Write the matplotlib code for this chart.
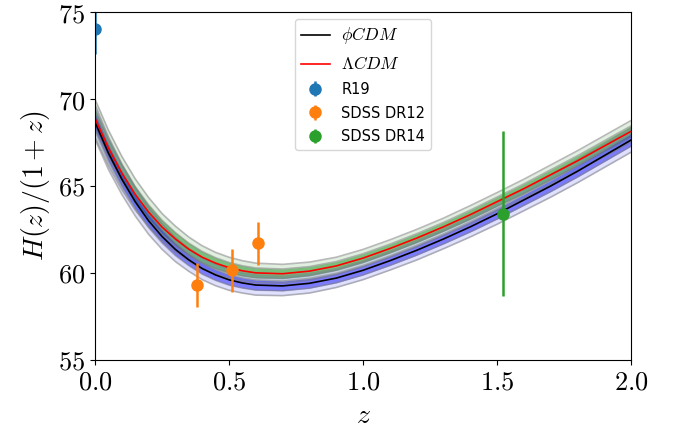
import numpy as np
import matplotlib
matplotlib.use('Agg')
import matplotlib.pyplot as plt
from matplotlib.ticker import FormatStrFormatter

plt.rcParams['mathtext.fontset'] = 'cm'

# Curvas H(z)/(1+z)
z_curva = [0.0, 0.05, 0.1, 0.15, 0.2, 0.25, 0.3, 0.35, 0.4, 0.45, 0.5, 0.55, 0.6,
           0.7, 0.8, 0.9, 1.0, 1.1, 1.2, 1.3, 1.4, 1.5, 1.6, 1.7, 1.8, 1.9, 2.0]
h_lcdm = [68.9, 67.2, 65.75, 64.52, 63.5, 62.64, 61.95, 61.36, 60.9, 60.56, 60.3, 60.12, 60.0,
          59.95, 60.1, 60.4, 60.85, 61.4, 62.0, 62.65, 63.35, 64.1, 64.85, 65.65, 66.45, 67.3, 68.15]
h_phicdm = [68.7, 66.9, 65.4, 64.1, 63.0, 62.1, 61.35, 60.75, 60.25, 59.88, 59.6, 59.42, 59.3,
            59.25, 59.4, 59.7, 60.15, 60.7, 61.3, 61.95, 62.65, 63.4, 64.2, 65.0, 65.85, 66.75, 67.65]
# Anchura 1 sigma de las bandas
sig_lcdm = [0.55, 0.51, 0.48, 0.45, 0.42, 0.39, 0.37, 0.35, 0.33, 0.31, 0.3, 0.29, 0.28,
            0.27, 0.26, 0.25, 0.25, 0.25, 0.25, 0.25, 0.26, 0.26, 0.27, 0.28, 0.29, 0.3, 0.31]
sig_phicdm = [0.5, 0.47, 0.44, 0.41, 0.39, 0.37, 0.35, 0.33, 0.32, 0.31, 0.3, 0.29, 0.29,
              0.28, 0.28, 0.27, 0.27, 0.27, 0.28, 0.28, 0.29, 0.3, 0.31, 0.32, 0.33, 0.34, 0.35]

# Datos observacionales
z_r19 = [0.0]
h_r19 = [74.03]
err_r19 = [1.42]
z_dr12 = [0.38, 0.51, 0.61]
h_dr12 = [59.3, 60.15, 61.7]
err_dr12 = [1.25, 1.25, 1.25]
z_dr14 = [1.52]
h_dr14 = [63.4]
err_dr14 = [4.75]

z = np.array(z_curva)
fig = plt.figure(figsize=(6.78, 4.34), dpi=100)
ax = fig.add_axes([0.140, 0.171, 0.791, 0.801])


def banda(centro, sig, color):
    c = np.array(centro)
    s = np.array(sig)
    for k, a in [(2, 0.12), (1, 0.45)]:
        ax.fill_between(z, c - k * s, c + k * s, color=color, alpha=a, lw=0)
        ax.plot(z, c - k * s, color='grey', alpha=0.55, lw=1.2)
        ax.plot(z, c + k * s, color='grey', alpha=0.55, lw=1.2)


banda(h_lcdm, sig_lcdm, 'green')
banda(h_phicdm, sig_phicdm, 'blue')

ax.plot(z, h_phicdm, color='black', lw=1.2, label=r'$\phi CDM$')
ax.plot(z, h_lcdm, color='red', lw=1.2, label=r'$\Lambda CDM$')

ax.errorbar(z_r19, h_r19, yerr=err_r19, fmt='o', color='C0', ms=8, elinewidth=1.8, label='R19')
ax.errorbar(z_dr12, h_dr12, yerr=err_dr12, fmt='o', color='C1', ms=8, elinewidth=1.8, label='SDSS DR12')
ax.errorbar(z_dr14, h_dr14, yerr=err_dr14, fmt='o', color='C2', ms=8, elinewidth=1.8, label='SDSS DR14')

ax.set_xlim(0, 2)
ax.set_ylim(55, 75)
ax.set_xticks([0.0, 0.5, 1.0, 1.5, 2.0])
ax.set_yticks([55, 60, 65, 70, 75])
ax.xaxis.set_major_formatter(FormatStrFormatter('$%.1f$'))
ax.yaxis.set_major_formatter(FormatStrFormatter('$%d$'))
ax.tick_params(labelsize=19)
ax.set_xlabel(r'$z$', fontsize=20)
ax.set_ylabel(r'$H(z)/(1+z)$', fontsize=20)
leg = ax.legend(loc='upper center', fontsize=10.5, labelspacing=0.6)
# las etiquetas en modo matematico se ven mas grandes en el original
for t in leg.get_texts()[:2]:
    t.set_fontsize(12.5)

fig.savefig('out.png', dpi=100)
